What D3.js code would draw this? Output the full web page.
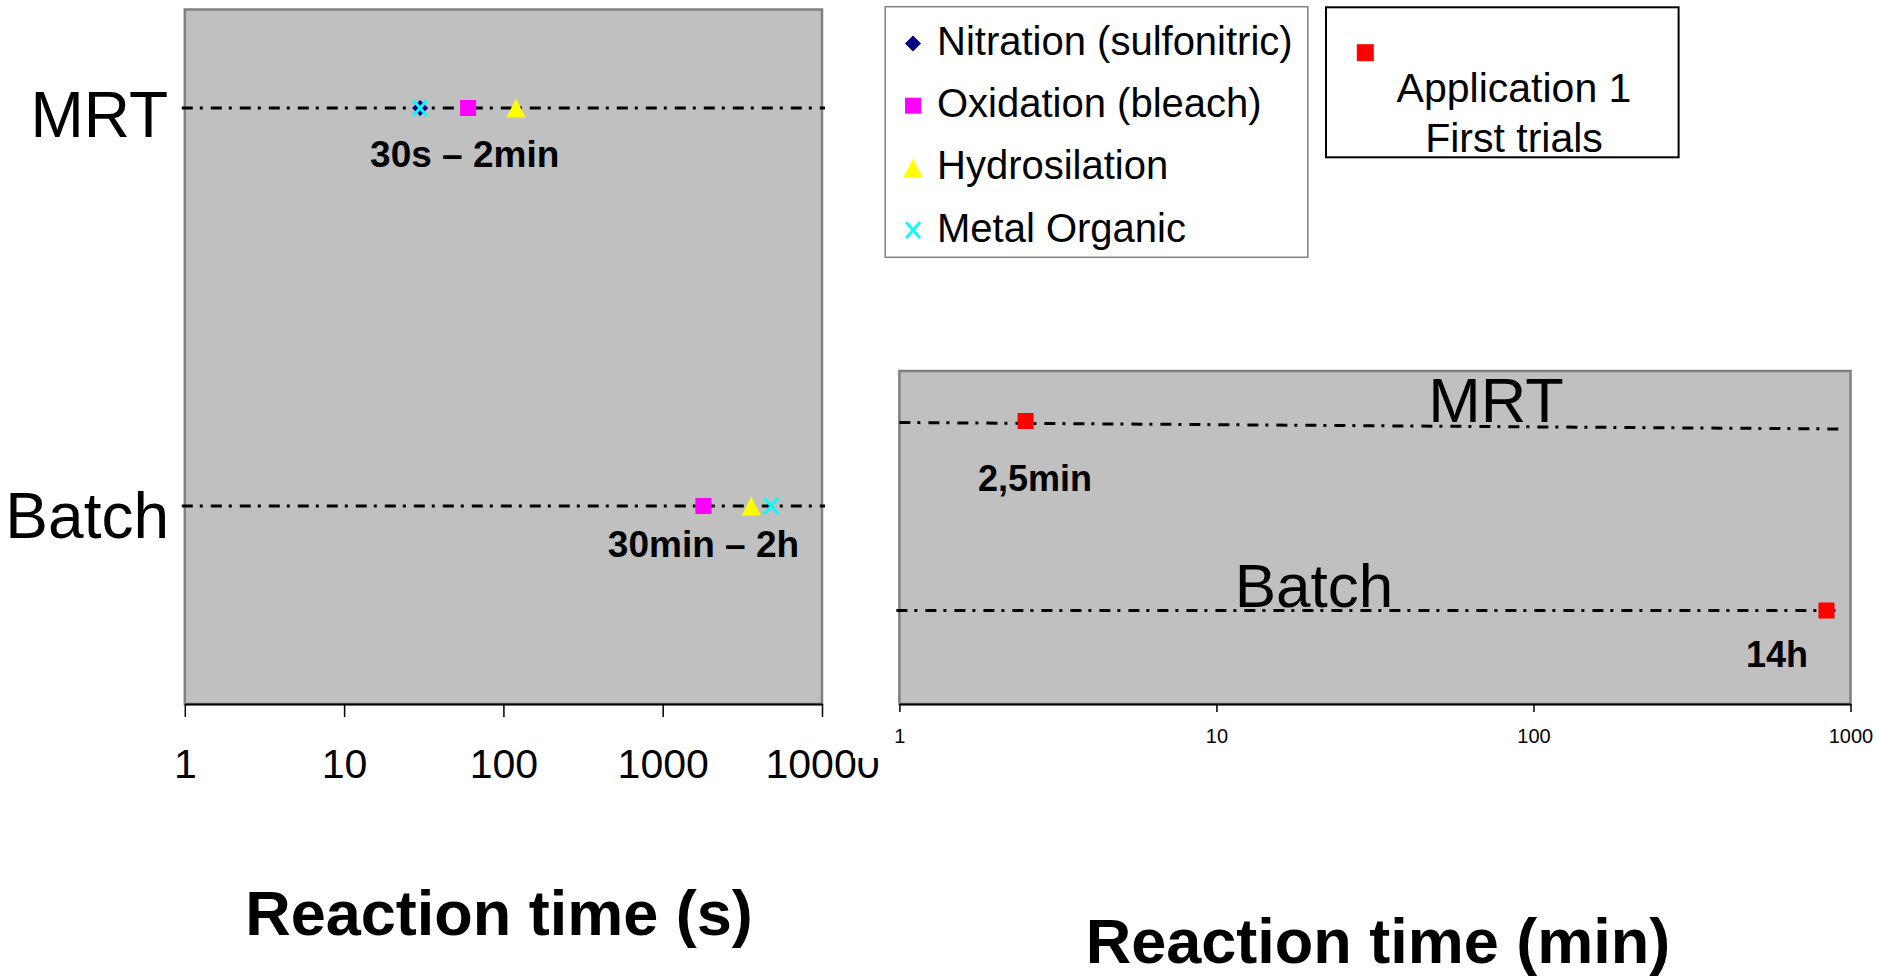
<!DOCTYPE html>
<html>
<head>
<meta charset="utf-8">
<script src="https://cdn.jsdelivr.net/npm/d3@7"></script>
<style>
  html, body { margin: 0; padding: 0; background: #ffffff; }
  svg { display: block; }
  text { font-family: "Liberation Sans", Arial, sans-serif; fill: #000; }
</style>
</head>
<body>
<script>
// ---------------- data ----------------
const rows = ["MRT", "Batch"];
const seriesNames = ["Nitration (sulfonitric)", "Oxidation (bleach)", "Hydrosilation", "Metal Organic"];
const seriesColors = ["#000080", "#ff00ff", "#ffff00", "#00ffff"];
const seriesShapes = ["diamond", "square", "triangle", "x"];
const mrtTimesS = [30, 60, 120, 30];          // seconds
const batchTimesS = [1800, 1800, 3600, 4800];  // seconds
const leftTicks = [1, 10, 100, 1000, 10000];
const leftRangeLabels = ["30s – 2min", "30min – 2h"];
const leftTitle = "Reaction time (s)";

const appLegend = ["Application 1", "First trials"];
const appColor = "#ff0000";
const appTimesMin = [2.5, 840];               // MRT, Batch (minutes)
const rightTicks = [1, 10, 100, 1000];
const rightRangeLabels = ["2,5min", "14h"];
const rightTitle = "Reaction time (min)";

// ---------------- setup ----------------
const W = 1877, H = 979;
const svg = d3.select("body").append("svg").attr("width", W).attr("height", H);

function markerPath(shape) {
  if (shape === "diamond") return "M0,-8L8,0L0,8L-8,0Z";
  if (shape === "square") return "M-8,-8H8V8H-8Z";
  if (shape === "triangle") return "M0,-9.5L9.5,9.5L-9.5,9.5Z";
  return "M-7,-8L7,8M7,-8L-7,8";
}
function drawMarker(g, shape, color, x, y) {
  const p = g.append("path").attr("d", markerPath(shape))
    .attr("transform", `translate(${x},${y})`);
  if (shape === "x") p.attr("fill", "none").attr("stroke", color).attr("stroke-width", 2.8);
  else p.attr("fill", color);
}

const dash = "11,7,3,8";
const lineW = 3;

// ---------------- left chart ----------------
const L = { x0: 184.8, x1: 822, y0: 9.5, y1: 704 };
const xL = d3.scaleLog().domain([1, 10000]).range([L.x0, L.x1]);
const yL = d3.scalePoint().domain(rows).range([108, 506]);

const gL = svg.append("g");
gL.append("rect").attr("x", L.x0).attr("y", L.y0)
  .attr("width", L.x1 - L.x0).attr("height", L.y1 - L.y0)
  .attr("fill", "#c0c0c0").attr("stroke", "#808080").attr("stroke-width", 2.5);

rows.forEach(r => {
  gL.append("line").attr("x1", L.x0 - 3).attr("x2", L.x1 + 3)
    .attr("y1", yL(r)).attr("y2", yL(r))
    .attr("stroke", "#000").attr("stroke-width", lineW).attr("stroke-dasharray", dash);
});

seriesNames.forEach((s, i) => {
  drawMarker(gL, seriesShapes[i], seriesColors[i], xL(mrtTimesS[i]), yL("MRT"));
  drawMarker(gL, seriesShapes[i], seriesColors[i], xL(batchTimesS[i]), yL("Batch"));
});

const axL = gL.append("g").attr("transform", `translate(0,${L.y1})`)
  .call(d3.axisBottom(xL).tickValues(leftTicks).tickFormat(d3.format("d")).tickSize(13).tickSizeOuter(0));
axL.select(".domain").attr("stroke", "#000").attr("stroke-width", 2.2);
axL.selectAll(".tick line").attr("stroke", "#000").attr("stroke-width", 1.5);
axL.selectAll(".tick text").attr("y", 74).attr("dy", 0)
  .style("font-size", "41px").style("font-family", '"Liberation Sans", Arial, sans-serif').attr("fill", "#000");

// row labels
gL.append("text").attr("x", 168).attr("y", 137).attr("text-anchor", "end")
  .style("font-size", "64px").text(rows[0]);
gL.append("text").attr("x", 169).attr("y", 538).attr("text-anchor", "end")
  .style("font-size", "64px").text(rows[1]);

gL.append("text").attr("x", 464.7).attr("y", 166.5).attr("text-anchor", "middle")
  .style("font-size", "37px").style("font-weight", "bold").text(leftRangeLabels[0]);
gL.append("text").attr("x", 703.5).attr("y", 556.5).attr("text-anchor", "middle")
  .style("font-size", "37px").style("font-weight", "bold").text(leftRangeLabels[1]);

gL.append("text").attr("x", 499).attr("y", 935).attr("text-anchor", "middle")
  .style("font-size", "63px").style("font-weight", "bold").text(leftTitle);

// background of right chart area clipping the last left tick label
svg.append("rect").attr("x", 853).attr("y", 706).attr("width", 40).attr("height", 52).attr("fill", "#fff");

// ---------------- legend 1 ----------------
const lg1 = svg.append("g");
lg1.append("rect").attr("x", 885.2).attr("y", 6.7).attr("width", 422.6).attr("height", 250.6)
  .attr("fill", "#fff").attr("stroke", "#808080").attr("stroke-width", 1.5);
seriesNames.forEach((s, i) => {
  const base = 55 + i * 62.2;
  drawMarker(lg1, seriesShapes[i], seriesColors[i], 913, base - 11.5);
  lg1.append("text").attr("x", 937).attr("y", base).style("font-size", "40px").text(s);
});

// ---------------- legend 2 ----------------
const lg2 = svg.append("g");
lg2.append("rect").attr("x", 1326).attr("y", 7.3).attr("width", 352.6).attr("height", 150)
  .attr("fill", "#fff").attr("stroke", "#000").attr("stroke-width", 2);
lg2.append("rect").attr("x", 1365.3 - 8.5).attr("y", 52.7 - 8.5).attr("width", 17).attr("height", 17).attr("fill", appColor);
lg2.append("text").attr("x", 1514).attr("y", 101.5).attr("text-anchor", "middle").style("font-size", "41px").text(appLegend[0]);
lg2.append("text").attr("x", 1514).attr("y", 151.5).attr("text-anchor", "middle").style("font-size", "41px").text(appLegend[1]);

// ---------------- right chart ----------------
const R = { x0: 899.4, x1: 1850.5, y0: 371, y1: 704 };
const xR = d3.scaleLog().domain([1, 1000]).range([R.x0, R.x1]);
const yR = d3.scalePoint().domain(rows).range([421, 610.5]);

const gR = svg.append("g");
gR.append("rect").attr("x", R.x0).attr("y", R.y0)
  .attr("width", R.x1 - R.x0).attr("height", R.y1 - R.y0)
  .attr("fill", "#c0c0c0").attr("stroke", "#808080").attr("stroke-width", 2.5);

// MRT line is slightly tilted in the original
gR.append("line").attr("x1", R.x0).attr("x2", 1844)
  .attr("y1", yR("MRT") + 1.5).attr("y2", yR("MRT") + 8)
  .attr("stroke", "#000").attr("stroke-width", lineW).attr("stroke-dasharray", dash);
gR.append("line").attr("x1", R.x0 - 3).attr("x2", 1842)
  .attr("y1", yR("Batch")).attr("y2", yR("Batch"))
  .attr("stroke", "#000").attr("stroke-width", lineW).attr("stroke-dasharray", dash);

rows.forEach((r, i) => {
  gR.append("rect").attr("x", xR(appTimesMin[i]) - 8).attr("y", yR(r) - 8)
    .attr("width", 16).attr("height", 16).attr("fill", appColor);
});

const axR = gR.append("g").attr("transform", `translate(0,${R.y1})`)
  .call(d3.axisBottom(xR).tickValues(rightTicks).tickFormat(d3.format("d")).tickSize(8).tickSizeOuter(0));
axR.select(".domain").attr("stroke", "#000").attr("stroke-width", 2.2);
axR.selectAll(".tick line").attr("stroke", "#000").attr("stroke-width", 1.5);
axR.selectAll(".tick text").attr("y", 39).attr("dy", 0)
  .style("font-size", "20px").style("font-family", '"Liberation Sans", Arial, sans-serif').attr("fill", "#000");

gR.append("text").attr("x", 1496).attr("y", 421.5).attr("text-anchor", "middle")
  .style("font-size", "63px").text(rows[0]);
gR.append("text").attr("x", 1314).attr("y", 606.5).attr("text-anchor", "middle")
  .style("font-size", "62px").text(rows[1]);

gR.append("text").attr("x", 1035).attr("y", 491).attr("text-anchor", "middle")
  .style("font-size", "36px").style("font-weight", "bold").text(rightRangeLabels[0]);
gR.append("text").attr("x", 1777).attr("y", 666.5).attr("text-anchor", "middle")
  .style("font-size", "36px").style("font-weight", "bold").text(rightRangeLabels[1]);

gR.append("text").attr("x", 1378).attr("y", 963).attr("text-anchor", "middle")
  .style("font-size", "63px").style("font-weight", "bold").text(rightTitle);
</script>
</body>
</html>
